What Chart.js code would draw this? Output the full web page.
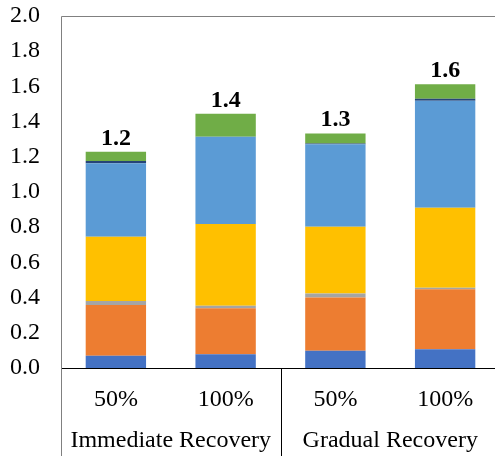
<!DOCTYPE html>
<html>
<head>
<meta charset="utf-8">
<script src="https://cdn.jsdelivr.net/npm/chart.js@4/dist/chart.umd.min.js"></script>
<style>
  html, body { margin: 0; padding: 0; overflow: hidden; background: #fff; }
  #wrap { width: 500px; height: 456px; }
</style>
</head>
<body>
<div id="wrap"><canvas id="c" width="500" height="456"></canvas></div>
<script>
// Scenario categories (bottom axis) and their recovery groups
const categories = ['50%', '100%', '50%', '100%'];
const groupLabels = ['Immediate Recovery', 'Gradual Recovery'];
const groupSize = 2;

// Stacked components, bottom to top
const seriesA = [0.070, 0.078, 0.098, 0.106];
const seriesB = [0.288, 0.261, 0.302, 0.341];
const seriesC = [0.023, 0.015, 0.024, 0.009];
const seriesD = [0.365, 0.464, 0.379, 0.455];
const seriesE = [0.417, 0.496, 0.468, 0.608];
const seriesF = [0.013, 0.000, 0.004, 0.011];
const seriesG = [0.053, 0.131, 0.058, 0.082];

const yTicks = [0.0, 0.2, 0.4, 0.6, 0.8, 1.0, 1.2, 1.4, 1.6, 1.8, 2.0];

const SERIF = "'Liberation Serif', 'Times New Roman', serif";

const stack = [
  { label: 'A', data: seriesA, backgroundColor: '#4472C4' },
  { label: 'B', data: seriesB, backgroundColor: '#ED7D31' },
  { label: 'C', data: seriesC, backgroundColor: '#A5A5A5' },
  { label: 'D', data: seriesD, backgroundColor: '#FFC000' },
  { label: 'E', data: seriesE, backgroundColor: '#5B9BD5' },
  { label: 'F', data: seriesF, backgroundColor: '#264478' },
  { label: 'G', data: seriesG, backgroundColor: '#70AD47' }
];

const totals = categories.map((_, i) => stack.reduce((s, d) => s + d.data[i], 0));

// Frame, group separators, group captions and total labels
const decorations = {
  id: 'decorations',
  afterDatasetsDraw(chart) {
    const { ctx, chartArea, scales } = chart;
    const x = scales.x, y = scales.y;
    ctx.save();

    // totals above each stack
    ctx.fillStyle = '#000';
    ctx.font = 'bold 24px ' + SERIF;
    ctx.textAlign = 'center';
    ctx.textBaseline = 'alphabetic';
    totals.forEach((t, i) => {
      const px = x.getPixelForValue(i);
      const py = y.getPixelForValue(t);
      ctx.fillText(t.toFixed(1), px, py - 7);
    });

    // left and top frame lines
    ctx.strokeStyle = '#808080';
    ctx.lineWidth = 1;
    ctx.beginPath();
    const lx = Math.round(chartArea.left) + 0.5;
    const ty = Math.round(chartArea.top) + 0.5;
    ctx.moveTo(lx, chart.height);
    ctx.lineTo(lx, ty);
    ctx.lineTo(chartArea.right, ty);
    ctx.stroke();

    // separators between groups below the axis
    ctx.strokeStyle = '#000';
    for (let g = 1; g < groupLabels.length; g++) {
      const a = x.getPixelForValue(g * groupSize - 1);
      const b = x.getPixelForValue(g * groupSize);
      const sx = Math.round((a + b) / 2) + 0.5;
      ctx.beginPath();
      ctx.moveTo(sx, chartArea.bottom);
      ctx.lineTo(sx, chart.height);
      ctx.stroke();
    }

    // group captions
    ctx.fillStyle = '#000';
    ctx.font = '24px ' + SERIF;
    ctx.textBaseline = 'middle';
    groupLabels.forEach((lab, g) => {
      const a = x.getPixelForValue(g * groupSize);
      const b = x.getPixelForValue(g * groupSize + groupSize - 1);
      ctx.fillText(lab, (a + b) / 2, chartArea.bottom + 73);
    });
    ctx.restore();
  }
};

new Chart(document.getElementById('c'), {
  type: 'bar',
  data: {
    labels: categories,
    datasets: stack.map(d => Object.assign({ borderWidth: 0 }, d))
  },
  options: {
    responsive: false,
    animation: false,
    layout: { padding: { top: 16, right: 0, left: 0, bottom: 0 } },
    plugins: { legend: { display: false }, tooltip: { enabled: false } },
    datasets: { bar: { categoryPercentage: 1, barPercentage: 0.55 } },
    scales: {
      x: {
        stacked: true,
        grid: { display: false, drawTicks: false },
        border: { display: true, color: '#000', width: 1 },
        ticks: { color: '#000', font: { family: SERIF, size: 24 }, padding: 17 },
        afterFit(scale) { scale.height = 88; scale.paddingLeft = 0; scale.paddingRight = 0; }
      },
      y: {
        stacked: true,
        min: 0,
        max: 2,
        afterBuildTicks(scale) { scale.ticks = yTicks.map(v => ({ value: v })); },
        grid: { display: false, drawTicks: false },
        border: { display: false },
        ticks: {
          color: '#000',
          font: { family: SERIF, size: 24 },
          padding: 21,
          callback: v => Number(v).toFixed(1)
        },
        afterFit(scale) { scale.width = 61; scale.paddingTop = 0; scale.paddingBottom = 0; }
      }
    }
  },
  plugins: [decorations]
});
</script>
</body>
</html>
